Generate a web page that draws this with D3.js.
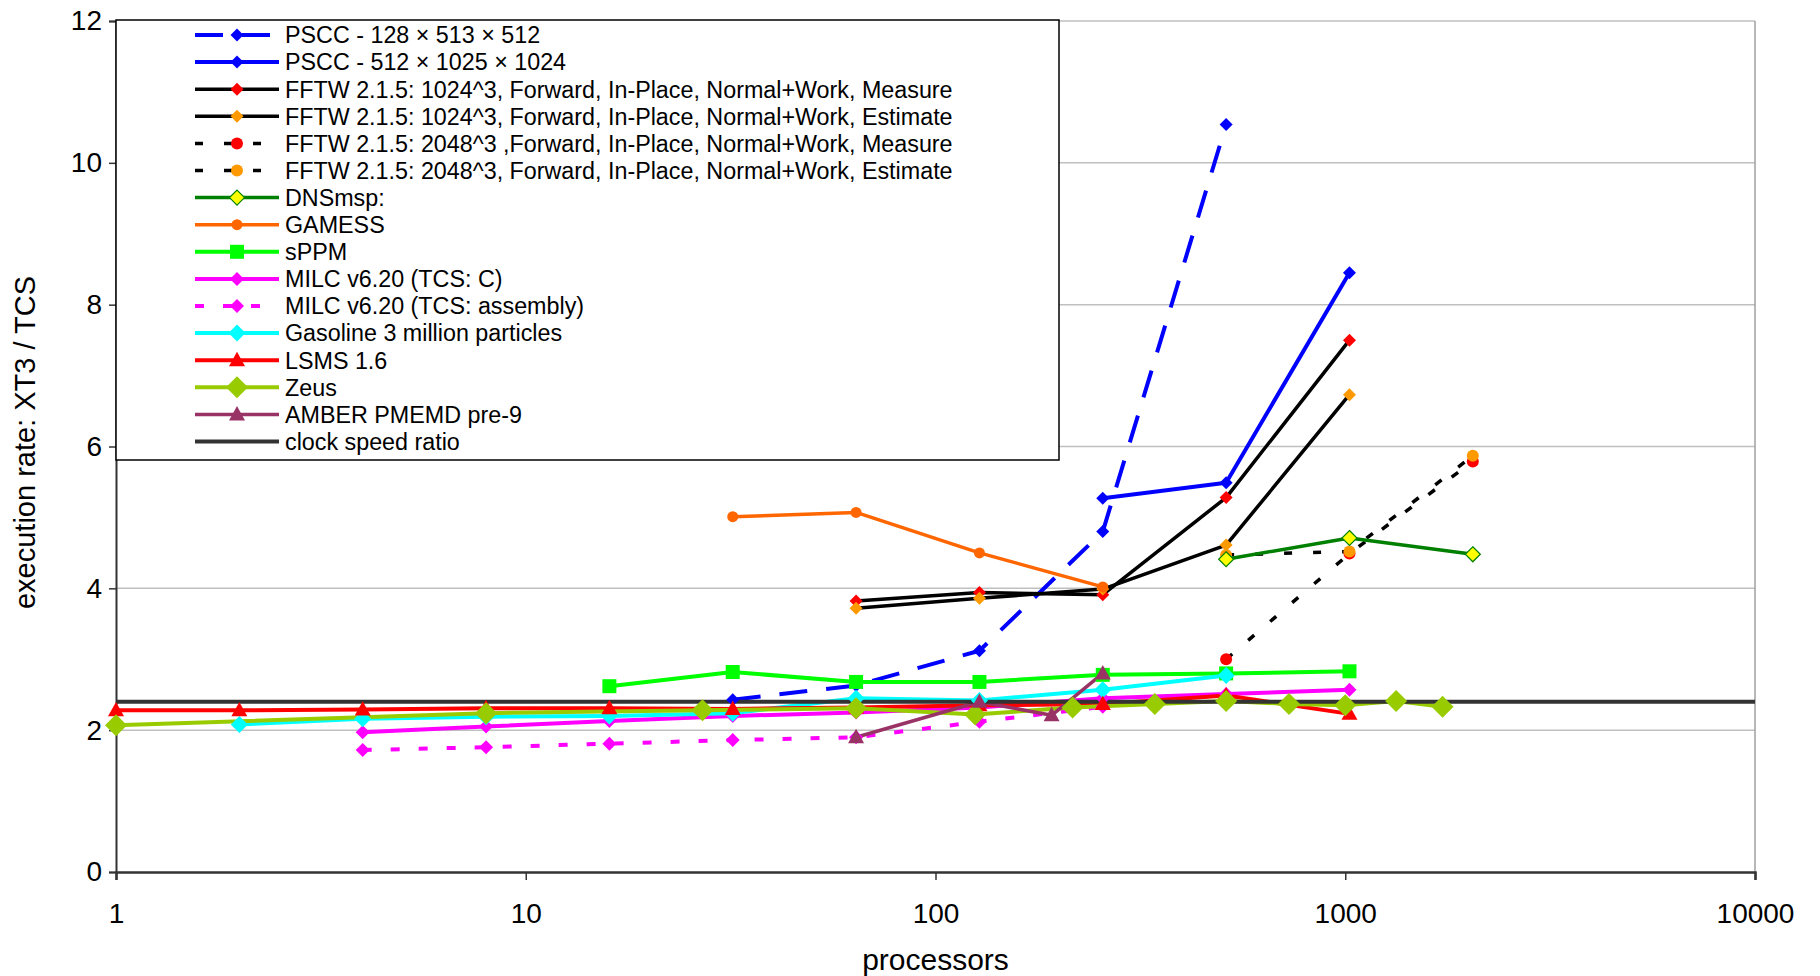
<!DOCTYPE html>
<html>
<head>
<meta charset="utf-8">
<script src="https://cdn.jsdelivr.net/npm/d3@7"></script>
<style>
  body { margin: 0; background: #ffffff; }
  text { font-family: "Liberation Sans", Arial, sans-serif; fill: #000; }
</style>
</head>
<body>
<div id="chart"></div>
<script>
// ---------------------------//
//           DATA             //
// ---------------------------//

const xTicks = [1, 10, 100, 1000, 10000];
const yTicks = [0, 2, 4, 6, 8, 10, 12];

const pscc128Procs = [32, 64, 128, 256, 512];
const pscc128Rate  = [2.43, 2.63, 3.12, 4.80, 10.54];

const pscc512Procs = [256, 512, 1024];
const pscc512Rate  = [5.27, 5.49, 8.45];

const fftw1024Procs    = [64, 128, 256, 512, 1024];
const fftw1024Measure  = [3.82, 3.94, 3.91, 5.28, 7.50];
const fftw1024Estimate = [3.72, 3.86, 3.99, 4.61, 6.73];

const fftw2048Procs    = [512, 1024, 2048];
const fftw2048Measure  = [3.00, 4.49, 5.79];
const fftw2048Estimate = [4.47, 4.52, 5.87];

const dnsProcs = [512, 1024, 2048];
const dnsRate  = [4.41, 4.71, 4.48];

const gamessProcs = [32, 64, 128, 256];
const gamessRate  = [5.01, 5.07, 4.50, 4.02];

const sppmProcs = [16, 32, 64, 128, 256, 512, 1024];
const sppmRate  = [2.62, 2.82, 2.68, 2.68, 2.78, 2.80, 2.83];

const milcCProcs = [4, 8, 16, 32, 64, 128, 256, 512, 1024];
const milcCRate  = [1.97, 2.05, 2.13, 2.20, 2.25, 2.32, 2.45, 2.51, 2.57];

const milcAsmProcs = [4, 8, 16, 32, 64, 128, 256];
const milcAsmRate  = [1.72, 1.76, 1.81, 1.86, 1.90, 2.12, 2.33];

const gasolineProcs = [2, 4, 8, 16, 32, 64, 128, 256, 512];
const gasolineRate  = [2.08, 2.16, 2.19, 2.20, 2.24, 2.45, 2.42, 2.57, 2.77];

const lsmsProcs = [1, 2, 4, 8, 16, 32, 64, 128, 256, 512, 1024];
const lsmsRate  = [2.28, 2.28, 2.29, 2.31, 2.31, 2.30, 2.32, 2.35, 2.37, 2.49, 2.23];

const zeusProcs = [1, 8, 27, 64, 125, 216, 343, 512, 729, 1000, 1331, 1728];
const zeusRate  = [2.07, 2.24, 2.28, 2.31, 2.22, 2.32, 2.37, 2.41, 2.37, 2.35, 2.41, 2.33];

const amberProcs = [64, 128, 192, 256];
const amberRate  = [1.90, 2.40, 2.21, 2.80];

const clockProcs = [1, 10000];
const clockRate  = [2.4, 2.4];

// ---------------------------//
//       SET  CANVAS          //
// ---------------------------//

const W = 1820, H = 976;
const plot = {left: 116, right: 1755, top: 21, bottom: 872};

const svg = d3.select("#chart")
    .append("svg")
    .attr("width", W)
    .attr("height", H)
    .style("background", "#ffffff");

const x = d3.scaleLog()
    .domain([1, 10000])
    .range([plot.left, plot.right]);

const y = d3.scaleLinear()
    .domain([0, 12])
    .range([plot.bottom, plot.top]);

// series table (style per series)
const zip = (p, v) => p.map((d, i) => ({p: d, v: v[i]}));
const series = [
    {name: "PSCC - 128 \u00d7 513 \u00d7 512", data: zip(pscc128Procs, pscc128Rate), color: "#0000ff", width: 4, dash: "28,19", marker: "diamond", size: 6.5, fill: "#0000ff"},
    {name: "PSCC - 512 \u00d7 1025 \u00d7 1024", data: zip(pscc512Procs, pscc512Rate), color: "#0000ff", width: 4, dash: null, marker: "diamond", size: 6.5, fill: "#0000ff"},
    {name: "FFTW 2.1.5: 1024^3, Forward, In-Place, Normal+Work, Measure", data: zip(fftw1024Procs, fftw1024Measure), color: "#000000", width: 3.5, dash: null, marker: "diamond", size: 6.5, fill: "#ff0000"},
    {name: "FFTW 2.1.5: 1024^3, Forward, In-Place, Normal+Work, Estimate", data: zip(fftw1024Procs, fftw1024Estimate), color: "#000000", width: 3.5, dash: null, marker: "diamond", size: 6.5, fill: "#ff9900"},
    {name: "FFTW 2.1.5: 2048^3 ,Forward, In-Place, Normal+Work, Measure", data: zip(fftw2048Procs, fftw2048Measure), color: "#000000", width: 3.5, dash: "8,21", marker: "circle", size: 6, fill: "#ff0000"},
    {name: "FFTW 2.1.5: 2048^3, Forward, In-Place, Normal+Work, Estimate", data: zip(fftw2048Procs, fftw2048Estimate), color: "#000000", width: 3.5, dash: "8,21", marker: "circle", size: 6, fill: "#ff9900"},
    {name: "DNSmsp:", data: zip(dnsProcs, dnsRate), color: "#008000", width: 3.5, dash: null, marker: "diamond", size: 7.5, fill: "#ffff00", stroke: "#008000"},
    {name: "GAMESS", data: zip(gamessProcs, gamessRate), color: "#ff6600", width: 3.5, dash: null, marker: "circle", size: 5.5, fill: "#ff6600"},
    {name: "sPPM", data: zip(sppmProcs, sppmRate), color: "#00ff00", width: 4, dash: null, marker: "square", size: 7, fill: "#00ff00"},
    {name: "MILC v6.20 (TCS: C)", data: zip(milcCProcs, milcCRate), color: "#ff00ff", width: 4, dash: null, marker: "diamond", size: 7, fill: "#ff00ff"},
    {name: "MILC v6.20 (TCS: assembly)", data: zip(milcAsmProcs, milcAsmRate), color: "#ff00ff", width: 4, dash: "9,19", marker: "diamond", size: 7, fill: "#ff00ff"},
    {name: "Gasoline 3 million particles", data: zip(gasolineProcs, gasolineRate), color: "#00ffff", width: 4, dash: null, marker: "diamond", size: 8.5, fill: "#00ffff"},
    {name: "LSMS 1.6", data: zip(lsmsProcs, lsmsRate), color: "#ff0000", width: 4, dash: null, marker: "triangle", size: 8, fill: "#ff0000"},
    {name: "Zeus", data: zip(zeusProcs, zeusRate), color: "#99cc00", width: 4, dash: null, marker: "diamond", size: 11, fill: "#99cc00"},
    {name: "AMBER PMEMD pre-9", data: zip(amberProcs, amberRate), color: "#993366", width: 3.5, dash: null, marker: "triangle", size: 8, fill: "#993366"},
    {name: "clock speed ratio", data: zip(clockProcs, clockRate), color: "#333333", width: 4, dash: null, marker: null}
];

// ---------------------------//
//       AXIS  AND GRID       //
// ---------------------------//

// horizontal gridlines
svg.append("g")
    .selectAll("line")
    .data(yTicks.filter(d => d > 0))
    .join("line")
    .attr("x1", plot.left)
    .attr("x2", plot.right)
    .attr("y1", d => y(d))
    .attr("y2", d => y(d))
    .attr("stroke", "#c0c0c0")
    .attr("stroke-width", 1.5);

// right border
svg.append("line")
    .attr("x1", plot.right).attr("x2", plot.right)
    .attr("y1", plot.top).attr("y2", plot.bottom)
    .attr("stroke", "#a0a0a0")
    .attr("stroke-width", 1.5);

// Y axis
const yAxis = svg.append("g")
    .attr("transform", `translate(${plot.left},0)`)
    .call(d3.axisLeft(y).tickValues(yTicks).tickSize(7).tickPadding(7).tickFormat(d3.format("d")));
yAxis.select(".domain").attr("stroke", "#333").attr("stroke-width", 2);
yAxis.selectAll(".tick line").attr("stroke", "#333").attr("stroke-width", 1.5);
yAxis.selectAll("text").style("font-size", "28px").attr("fill", "#000");

// X axis
const xAxis = svg.append("g")
    .attr("transform", `translate(0,${plot.bottom})`)
    .call(d3.axisBottom(x).tickValues(xTicks).tickSize(8).tickPadding(23).tickFormat(d3.format("d")));
xAxis.select(".domain").attr("stroke", "#333").attr("stroke-width", 2.5);
xAxis.selectAll(".tick line").attr("stroke", "#333").attr("stroke-width", 1.5);
xAxis.selectAll("text").style("font-size", "28px").attr("fill", "#000");

// axis labels
svg.append("text")
    .attr("text-anchor", "middle")
    .attr("x", (plot.left + plot.right) / 2)
    .attr("y", 970)
    .style("font-size", "30px")
    .text("processors");

svg.append("text")
    .attr("text-anchor", "middle")
    .attr("transform", `translate(35,${(plot.top + plot.bottom) / 2 - 4}) rotate(-90)`)
    .style("font-size", "29px")
    .text("execution rate: XT3 / TCS");

// ---------------------------//
//       LINES & MARKERS      //
// ---------------------------//

const line = d3.line()
    .x(d => x(d.p))
    .y(d => y(d.v));

function markerPath(type, s) {
    if (type === "diamond") return `M0,${-s}L${s},0L0,${s}L${-s},0Z`;
    if (type === "square") return `M${-s},${-s}H${s}V${s}H${-s}Z`;
    if (type === "triangle") return `M0,${-s * 1.05}L${s},${s * 0.75}L${-s},${s * 0.75}Z`;
    return d3.symbol(d3.symbolCircle, Math.PI * s * s)();
}

const lines = svg.append("g");
lines.selectAll("path")
    .data(series)
    .join("path")
    .attr("d", d => line(d.data))
    .attr("fill", "none")
    .attr("stroke", d => d.color)
    .attr("stroke-width", d => d.width)
    .attr("stroke-dasharray", d => d.dash)
    .attr("stroke-linejoin", "round");

const markers = svg.append("g");
series.filter(s => s.marker).forEach(s => {
    markers.append("g")
        .selectAll("path")
        .data(s.data)
        .join("path")
        .attr("transform", d => `translate(${x(d.p)},${y(d.v)})`)
        .attr("d", markerPath(s.marker, s.size))
        .attr("fill", s.fill)
        .attr("stroke", s.stroke || "none")
        .attr("stroke-width", 1.2);
});

// ---------------------------//
//           LEGEND           //
// ---------------------------//

const legend = {x0: plot.left, y0: 20, x1: 1059, y1: 460};
const legendG = svg.append("g");

legendG.append("rect")
    .attr("x", legend.x0)
    .attr("y", legend.y0)
    .attr("width", legend.x1 - legend.x0)
    .attr("height", legend.y1 - legend.y0)
    .attr("fill", "#ffffff")
    .attr("stroke", "#000")
    .attr("stroke-width", 1.5);

const rowY = i => 35 + i * 27.1;

const items = legendG.selectAll("g.item")
    .data(series)
    .join("g")
    .attr("class", "item")
    .attr("transform", (d, i) => `translate(0,${rowY(i)})`);

items.append("line")
    .attr("x1", 195)
    .attr("x2", 279)
    .attr("stroke", d => d.color)
    .attr("stroke-width", d => d.width)
    .attr("stroke-dasharray", d => d.dash);

items.filter(d => d.marker)
    .append("path")
    .attr("transform", "translate(237,0)")
    .attr("d", d => markerPath(d.marker, d.size))
    .attr("fill", d => d.fill)
    .attr("stroke", d => d.stroke || "none")
    .attr("stroke-width", 1.2);

items.append("text")
    .attr("x", 285)
    .attr("dy", "0.36em")
    .style("font-size", "23.3px")
    .text(d => d.name);
</script>
</body>
</html>
